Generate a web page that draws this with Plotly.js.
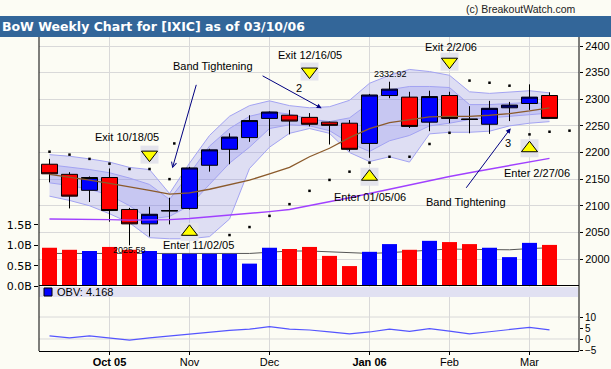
<!DOCTYPE html>
<html><head><meta charset="utf-8">
<script src="https://cdn.plot.ly/plotly-3.0.1.min.js"></script>
<style>html,body{margin:0;padding:0;background:#fcfcf4;}#chart{width:611px;height:369px;}</style>
</head><body><div id="chart"></div>
<script>
// ---------- data ----------
const weekIdx = [0,1,2,3,4,5,6,7,8,9,10,11,12,13,14,15,16,17,18,19,20,21,22,23,24,25];
const monthTickPos  = [3,7,11,16,20,24];
const monthTickText = ['<b>Oct 05</b>','Nov','Dec','<b>Jan 06</b>','Feb','Mar'];
const priceTicks = [2000,2050,2100,2150,2200,2250,2300,2350,2400];
const volTicks = [0,0.5,1,1.5];
const volTickText = ['0.0B','0.5B','1.0B','1.5B'];
const obvTicks = [-5,0,5,10];

const openP  = [2178,2159,2129,2153,2093,2066,2090,2095,2176,2206,2228,2264,2270,2266,2257,2255,2217,2307,2304,2257,2307,2263,2253,2284,2292,2307];
const highP  = [2188,2163,2155,2170,2096,2098,2115,2173,2207,2236,2270,2277,2280,2274,2258,2261,2310,2332.92,2314,2316,2314,2287,2297,2295,2328,2313];
const lowP   = [2144,2095,2107,2070,2025.58,2042,2065,2093,2164,2178,2220,2231,2234,2249,2215,2202,2190,2302,2246,2240,2255,2236,2235,2259,2280,2264];
const closeP = [2160,2118,2153,2091,2066,2084,2091,2171,2205,2229,2260,2276,2259,2253,2251,2206,2308,2319,2249,2305,2264,2262,2283,2289,2304,2264];

const volumeB = [0.94,0.89,0.86,0.96,0.89,0.86,0.79,0.79,0.79,0.79,0.55,0.94,0.91,0.96,0.74,0.49,0.84,1.03,0.89,1.11,1.08,1.03,0.94,0.71,1.06,1.01];
const volumeUp = [0,0,1,0,0,1,1,1,1,1,1,1,0,0,0,0,1,1,0,1,0,0,1,1,1,0];
const volumeMA = [0.80,0.80,0.80,0.80,0.80,0.80,0.80,0.80,0.80,0.80,0.80,0.83,0.86,0.86,0.84,0.81,0.80,0.82,0.85,0.88,0.91,0.90,0.89,0.89,0.92,0.94];

const obv = [1.4,0.5,1.4,0.6,-0.5,0.5,1.4,2.3,3.0,3.9,4.5,5.6,4.5,4.1,3.2,2.3,3.2,4.5,3.5,4.7,3.6,2.3,3.3,4.3,5.3,4.168];

const maShort = [2159,2154,2148,2142,2136,2129,2122,2124,2131,2139,2148,2160,2172,2192,2208,2228,2245,2256,2262,2267,2268,2268,2270,2273,2278,2284];
const maLong  = [2075,2075,2074,2074,2073,2073,2074,2076,2079,2082,2085,2089,2093,2100,2107,2115,2123,2131,2140,2148,2155,2162,2169,2176,2183,2189];

const outerUpper = [2196,2193,2188,2182,2172,2168,2123,2180,2232,2268,2288,2297,2288,2284,2286,2298,2330,2345,2356,2352,2345,2314,2311,2313,2316,2312];
const innerUpper = [2177,2173,2168,2162,2152,2140,2112,2160,2212,2245,2268,2277,2272,2263,2258,2265,2293,2318,2324,2324,2322,2290,2290,2292,2294,2291];
const innerLower = [2143,2138,2131,2120,2100,2075,2080,2100,2140,2180,2210,2245,2252,2250,2241,2218,2202,2222,2232,2250,2255,2262,2265,2268,2272,2274];
const outerLower = [2118,2110,2100,2085,2068,2040,2038,2038,2042,2075,2170,2210,2236,2245,2236,2200,2183,2192,2182,2235,2238,2238,2240,2250,2255,2258];

const sarX = [0,1,2,3,4,5,6,6.24,9,10,11,12,13,14,15,16,17,18,19,20,21,22,23,24,25,26];
const sarY = [2201.5,2196,2188,2179,2169,2169,2150,2217,2045,2060,2081,2103,2128,2148.5,2164,2181,2192,2192,2216,2237,2335,2331,2325.5,2234,2239,2241];

const exitX = [5,13,20];
const exitY = [2196,2352,2370.5];
const exitText = ['Exit 10/18/05','Exit 12/16/05','Exit 2/2/06'];
const exitTextX = [3.88,13.0,20.08];
const exitTextY = [2229.7,2383,2398.7];
const enterX = [7,16,24];
const enterY = [2051,2154.5,2208];
const enterText = ['Enter 11/02/05','Enter 01/05/06','Enter 2/27/06'];
const enterTextX = [7.43,16.0,24.35];
const enterTextY = [2026,2117,2161];

const bandNoteText = ['Band Tightening','Band Tightening'];
const bandNoteX = [8.18,20.8];
const bandNoteY = [2362.5,2107.7];
const arrowTipX  = [6.14,13.61,23.06];
const arrowTipY  = [2170.3,2283,2245.5];
const arrowTailX = [7.36,10.58,20.78];
const arrowTailY = [2329.9,2345.5,2130.9];
const arrowHead  = [5,2,2];
const arrowNumText = ['2','3'];
const arrowNumX = [12.48,22.93];
const arrowNumY = [2321,2217];

const highLabel = {x:17.07, y:2347, text:'2332.92'};
const lowLabel  = {x:3.98,  y:2016, text:'2025.58'};
const obvLast = '4.168';

// ---------- styling ----------
const BG = '#fcfcf4', GRID = '#d9d9d9';
const BAND_LINE = '#a3a3f2', BAND_FILL = 'rgba(120,120,240,0.22)';
const FONT = 'Liberation Sans, Arial, sans-serif';
const priceRange = [1949.3, 2416.9];
const volRange = [0, 6.12];
const obvRange = [-5.45, 24.1];
const D = 65/314;              // OBV panel fraction of the plot height
const px = v => (v-39)/540;    // horizontal pixel -> paper
const py = v => (351-v)/314;   // vertical pixel -> paper

const traces = [];
// bands
traces.push({x:weekIdx, y:outerLower, type:'scatter', mode:'lines', line:{color:BAND_LINE,width:1}, xaxis:'x', yaxis:'y', hoverinfo:'skip'});
traces.push({x:weekIdx, y:outerUpper, type:'scatter', mode:'lines', fill:'tonexty', fillcolor:BAND_FILL, line:{color:BAND_LINE,width:1}, xaxis:'x', yaxis:'y', hoverinfo:'skip'});
traces.push({x:weekIdx, y:innerLower, type:'scatter', mode:'lines', line:{color:BAND_LINE,width:1}, xaxis:'x', yaxis:'y', hoverinfo:'skip'});
traces.push({x:weekIdx, y:innerUpper, type:'scatter', mode:'lines', fill:'tonexty', fillcolor:BAND_FILL, line:{color:BAND_LINE,width:1}, xaxis:'x', yaxis:'y', hoverinfo:'skip'});
// volume moving average (below the volume bars)
traces.push({x:weekIdx, y:volumeMA, type:'scatter', mode:'lines', line:{color:'#555555',width:1}, xaxis:'x', yaxis:'y2', hoverinfo:'skip'});
// OBV
traces.push({x:weekIdx, y:obv, type:'scatter', mode:'lines', line:{color:'#5555ff',width:1.2}, xaxis:'x', yaxis:'y3', hoverinfo:'skip'});
// volume bars
traces.push({x:weekIdx, y:volumeB, type:'bar', width:0.75, marker:{color:volumeUp.map(u=>u?'#0000ff':'#ff0000'), line:{width:0}}, xaxis:'x', yaxis:'y4', hoverinfo:'skip'});
// candles
traces.push({type:'candlestick', x:weekIdx, open:openP, high:highP, low:lowP, close:closeP, xaxis:'x', yaxis:'y5',
  increasing:{line:{color:'#000000',width:1}, fillcolor:'#0000ff'},
  decreasing:{line:{color:'#000000',width:1}, fillcolor:'#ff0000'},
  whiskerwidth:0, hoverinfo:'skip'});
// moving averages
traces.push({x:weekIdx, y:maShort, type:'scatter', mode:'lines', line:{color:'#8b5a2b',width:1.3}, xaxis:'x', yaxis:'y5', hoverinfo:'skip'});
traces.push({x:weekIdx, y:maLong, type:'scatter', mode:'lines', line:{color:'#a040ff',width:1.4}, xaxis:'x', yaxis:'y5', hoverinfo:'skip'});
// stop dots
traces.push({x:sarX, y:sarY, type:'scatter', mode:'markers', marker:{symbol:'square', size:2.5, color:'#000000'}, xaxis:'x', yaxis:'y5', hoverinfo:'skip'});
// signal markers with their grey boxes
traces.push({x:exitX.concat(enterX), y:exitY.concat(enterY), type:'scatter', mode:'markers', marker:{symbol:'square', size:18, color:'#e4e4ec'}, xaxis:'x', yaxis:'y5', hoverinfo:'skip'});
traces.push({x:exitX, y:exitY, type:'scatter', mode:'markers', marker:{symbol:'triangle-down', size:14, color:'#ffff00', line:{color:'#000000',width:1}}, xaxis:'x', yaxis:'y5', hoverinfo:'skip'});
traces.push({x:enterX, y:enterY, type:'scatter', mode:'markers', marker:{symbol:'triangle-up', size:14, color:'#ffff00', line:{color:'#000000',width:1}}, xaxis:'x', yaxis:'y5', hoverinfo:'skip'});

const ann = [];
ann.push({xref:'paper', yref:'paper', x:px(578), y:py(9), xanchor:'right', yanchor:'middle', text:'(c) BreakoutWatch.com', showarrow:false, font:{family:FONT, size:10.5, color:'#222'}});
ann.push({xref:'paper', yref:'paper', x:px(55), y:py(292), xanchor:'left', yanchor:'middle', text:'OBV: '+obvLast, showarrow:false, font:{family:FONT, size:11, color:'#000'}});
exitText.forEach((t,i)=>ann.push({xref:'x', yref:'y', x:exitTextX[i], y:exitTextY[i], text:t, showarrow:false, font:{family:FONT,size:11,color:'#000'}}));
enterText.forEach((t,i)=>ann.push({xref:'x', yref:'y', x:enterTextX[i], y:enterTextY[i], text:t, showarrow:false, font:{family:FONT,size:11,color:'#000'}}));
bandNoteText.forEach((t,i)=>ann.push({xref:'x', yref:'y', x:bandNoteX[i], y:bandNoteY[i], text:t, showarrow:false, font:{family:FONT,size:11,color:'#000'}}));
arrowNumText.forEach((t,i)=>ann.push({xref:'x', yref:'y', x:arrowNumX[i], y:arrowNumY[i], text:t, showarrow:false, font:{family:FONT,size:11,color:'#000'}}));
arrowTipX.forEach((v,i)=>ann.push({xref:'x', yref:'y', axref:'x', ayref:'y', x:v, y:arrowTipY[i], ax:arrowTailX[i], ay:arrowTailY[i], text:'', showarrow:true, arrowhead:arrowHead[i], arrowsize:1, arrowwidth:1, arrowcolor:'#000080', standoff:0, startstandoff:0}));
[highLabel, lowLabel].forEach(l=>ann.push({xref:'x', yref:'y', x:l.x, y:l.y, text:l.text, showarrow:false, font:{family:FONT,size:9,color:'#000'}}));

const shapes = [
  {type:'rect', xref:'paper', yref:'paper', x0:px(0), x1:px(611), y0:py(37), y1:py(16), fillcolor:'#336699', line:{width:0}, layer:'below'},
  {type:'line', xref:'paper', yref:'y3', x0:0, x1:1, y0:0, y1:0, line:{color:GRID,width:1}, layer:'below'},
  {type:'line', xref:'paper', yref:'y3', x0:0, x1:1, y0:10, y1:10, line:{color:GRID,width:1}, layer:'below'},
  {type:'rect', xref:'paper', yref:'paper', x0:0, x1:px(578), y0:py(297), y1:py(287), fillcolor:'#e1e1f2', line:{width:0}, layer:'above'},
  {type:'rect', xref:'paper', yref:'paper', x0:px(44), x1:px(52), y0:py(296), y1:py(288), fillcolor:'#0000ff', line:{color:'#000',width:1}, layer:'above'},
  {type:'line', xref:'paper', yref:'y2', x0:0, x1:1, y0:0, y1:0, line:{color:'#000',width:2}, layer:'above'},
  {type:'line', xref:'paper', yref:'paper', x0:0, x1:0, y0:0, y1:1, line:{color:'#000',width:1}, layer:'above'},
  {type:'line', xref:'paper', yref:'paper', x0:1, x1:1, y0:0, y1:1, line:{color:'#000',width:1}, layer:'above'}
];

const layout = {
  width:611, height:369,
  margin:{l:39, r:32, t:37, b:18, pad:0},
  paper_bgcolor:BG, plot_bgcolor:BG,
  showlegend:false, barmode:'overlay',
  boxgap:0.1, boxgroupgap:0.11,
  font:{family:FONT, size:11, color:'#000'},
  title:{text:'<b>BoW Weekly Chart for [IXIC] as of 03/10/06</b>', font:{family:'DejaVu Sans, Verdana, sans-serif', size:12.5, color:'#ffffff'},
         x:2/611, xanchor:'left', xref:'container', y:1-26.5/369, yanchor:'middle', yref:'container'},
  xaxis:{domain:[0,1], range:[-0.525,26.475], anchor:'y3', tickmode:'array', tickvals:monthTickPos, ticktext:monthTickText,
         showgrid:true, gridcolor:GRID, gridwidth:1, ticks:'outside', ticklen:3, tickcolor:'#000', ticklabelstandoff:-2,
         showline:true, linecolor:'#000', linewidth:1, zeroline:false, rangeslider:{visible:false}, tickfont:{family:FONT,size:11}},
  yaxis:{domain:[D,1], range:priceRange, side:'right', anchor:'x', tickmode:'array', tickvals:priceTicks,
         showgrid:true, gridcolor:GRID, gridwidth:1, ticks:'outside', ticklen:3, tickcolor:'#000', zeroline:false, showline:false, tickfont:{family:FONT,size:11}},
  yaxis2:{overlaying:'y', side:'left', range:volRange, tickmode:'array', tickvals:volTicks, ticktext:volTickText,
         showgrid:false, ticks:'outside', ticklen:4, tickcolor:'#000', zeroline:false, showline:false, tickfont:{family:'DejaVu Sans, sans-serif',size:11}},
  yaxis3:{domain:[0,D], range:obvRange, side:'right', anchor:'x', tickmode:'array', tickvals:obvTicks,
         showgrid:false, ticks:'outside', ticklen:3, tickcolor:'#000', zeroline:false, showline:false, tickfont:{family:FONT,size:10}},
  yaxis4:{overlaying:'y', range:volRange, visible:false, showgrid:false, zeroline:false},
  yaxis5:{overlaying:'y', range:priceRange, visible:false, showgrid:false, zeroline:false},
  shapes:shapes,
  annotations:ann
};

Plotly.newPlot('chart', traces, layout, {staticPlot:true, displayModeBar:false});
</script>
</body></html>
